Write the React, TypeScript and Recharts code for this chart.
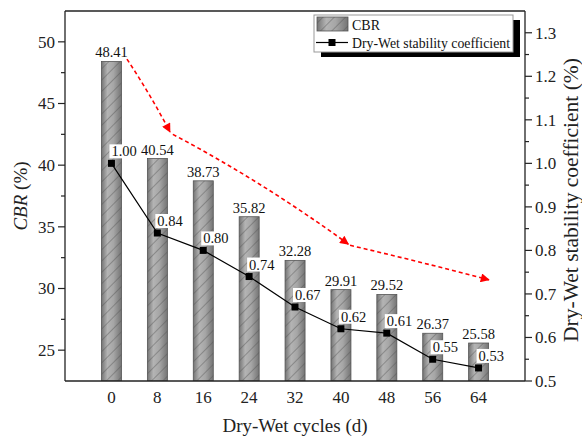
import React from "react";
import {
  ComposedChart,
  Bar,
  Line,
  XAxis,
  YAxis,
  LabelList,
  ReferenceLine,
} from "recharts";

const cycles = ["0", "8", "16", "24", "32", "40", "48", "56", "64"];
const cbrValues = [48.41, 40.54, 38.73, 35.82, 32.28, 29.91, 29.52, 26.37, 25.58];
const stabilityValues = [1.0, 0.84, 0.8, 0.74, 0.67, 0.62, 0.61, 0.55, 0.53];

const cbrTicks = [25, 27.5, 30, 32.5, 35, 37.5, 40, 42.5, 45, 47.5, 50];
const stabilityTicks = [0.5, 0.55, 0.6, 0.65, 0.7, 0.75, 0.8, 0.85, 0.9, 0.95, 1.0, 1.05, 1.1, 1.15, 1.2, 1.25, 1.3];

// red dashed trend arrows, in (cycle, CBR) units
const trendArrows = [
  { from: [2.7, 48.6], ctrl: [6.7, 45.8], to: [10.2, 42.7] },
  { from: [10.7, 42.5], ctrl: [26.2, 38.7], to: [41.3, 33.6] },
  { from: [41.6, 33.5], ctrl: [53.6, 32.2], to: [65.8, 30.7] },
];

const data = cycles.map((c, i) => ({
  cycle: c,
  cbr: cbrValues[i],
  stability: stabilityValues[i],
}));

const W = 582;
const H = 439;
const TOP = 11;
const LEFT_W = 65;
const RIGHT_W = 57;
const X_H = 58;
const X_PAD = 23.5;
const CBR_DOMAIN = [22.5, 52.5];
const FONT = "'Liberation Serif', 'Times New Roman', serif";

// overlay mapping, same layout as the chart
const plotLeft = LEFT_W;
const plotRight = W - RIGHT_W;
const plotBottom = H - X_H;
const band = (plotRight - plotLeft - 2 * X_PAD) / cycles.length;
const px = (c: number) => plotLeft + X_PAD + band / 2 + (c / 8) * band;
const py = (v: number) =>
  plotBottom - ((v - CBR_DOMAIN[0]) / (CBR_DOMAIN[1] - CBR_DOMAIN[0])) * (plotBottom - TOP);

function LeftTick(props: any) {
  const { x, y, payload } = props;
  const v = payload.value;
  const major = v % 5 === 0;
  return (
    <g>
      <line x1={x} x2={x - (major ? 7 : 4)} y1={y} y2={y} stroke="#222" strokeWidth={1.2} />
      {major && (
        <text x={x - 10} y={y} dy="0.35em" textAnchor="end" fontSize={17} fontFamily={FONT} fill="#222">
          {v}
        </text>
      )}
    </g>
  );
}

function RightTick(props: any) {
  const { x, y, payload } = props;
  const v = payload.value;
  const major = Math.abs(v * 10 - Math.round(v * 10)) < 1e-6;
  return (
    <g>
      <line x1={x} x2={x + (major ? 7 : 4)} y1={y} y2={y} stroke="#222" strokeWidth={1.2} />
      {major && (
        <text x={x + 10} y={y} dy="0.35em" textAnchor="start" fontSize={17} fontFamily={FONT} fill="#222">
          {v.toFixed(1)}
        </text>
      )}
    </g>
  );
}

function HatchBar(props: any) {
  const { x, y, width, height } = props;
  return (
    <g>
      <rect x={x} y={y} width={width} height={height} fill="url(#barGrad)" />
      <rect x={x} y={y} width={width} height={height} fill="url(#hatch)" stroke="#555" strokeWidth={0.8} />
    </g>
  );
}

function SquareDot(props: any) {
  const { cx, cy } = props;
  return <rect x={cx - 3.5} y={cy - 3.5} width={7} height={7} fill="#000" />;
}

function StabilityLabel(props: any) {
  const { x, y, value } = props;
  const txt = Number(value).toFixed(2);
  return (
    <g>
      <rect x={x - 2} y={y - 19} width={28} height={14} fill="#fff" />
      <text x={x} y={y - 7} fontSize={14.5} fontFamily={FONT} fill="#111">
        {txt}
      </text>
    </g>
  );
}

export default function App() {
  return (
    <div style={{ position: "absolute", left: 0, top: 0, width: W, height: H, background: "#fff" }}>
      <svg width={0} height={0} style={{ position: "absolute" }}>
        <defs>
          <linearGradient id="barGrad" x1="0" y1="0" x2="1" y2="0">
            <stop offset="0%" stopColor="#747474" />
            <stop offset="30%" stopColor="#b4b4b4" />
            <stop offset="60%" stopColor="#a6a6a6" />
            <stop offset="100%" stopColor="#747474" />
          </linearGradient>
          <pattern id="hatch" width={8} height={8} patternUnits="userSpaceOnUse" patternTransform="rotate(45)">
            <line x1={0} y1={0} x2={0} y2={8} stroke="#505050" strokeWidth={1} strokeOpacity={0.8} />
          </pattern>
          <marker
            id="redHead"
            viewBox="0 0 10 10"
            refX={9}
            refY={5}
            markerWidth={12}
            markerHeight={9}
            markerUnits="userSpaceOnUse"
            orient="auto"
          >
            <path d="M0,0 L10,5 L0,10 z" fill="#ff0000" />
          </marker>
        </defs>
      </svg>
      <ComposedChart
        width={W}
        height={H}
        data={data}
        margin={{ top: TOP, right: 0, bottom: 0, left: 0 }}
      >
        <XAxis
          dataKey="cycle"
          type="category"
          height={X_H}
          padding={{ left: X_PAD, right: X_PAD }}
          tickLine={false}
          tickSize={0}
          tickMargin={10}
          interval={0}
          axisLine={{ stroke: "#222", strokeWidth: 1.3 }}
          tick={{ fontSize: 17, fontFamily: FONT, fill: "#222" }}
        />
        <YAxis
          yAxisId="left"
          width={LEFT_W}
          domain={CBR_DOMAIN}
          ticks={cbrTicks}
          interval={0}
          tickLine={false}
          tickSize={0}
          tickMargin={0}
          tick={<LeftTick />}
          axisLine={{ stroke: "#222", strokeWidth: 1.3 }}
          allowDataOverflow
        />
        <YAxis
          yAxisId="right"
          orientation="right"
          width={RIGHT_W}
          domain={[0.5, 1.35]}
          ticks={stabilityTicks}
          interval={0}
          tickLine={false}
          tickSize={0}
          tickMargin={0}
          tick={<RightTick />}
          axisLine={{ stroke: "#222", strokeWidth: 1.3 }}
          allowDataOverflow
        />
        <ReferenceLine yAxisId="left" y={CBR_DOMAIN[1]} stroke="#222" strokeWidth={1.3} />
        <Bar
          yAxisId="left"
          dataKey="cbr"
          barSize={20}
          shape={<HatchBar />}
          isAnimationActive={false}
        >
          <LabelList
            dataKey="cbr"
            position="top"
            offset={4}
            formatter={(v: any) => Number(v).toFixed(2)}
            style={{ fontSize: 14.5, fontFamily: FONT, fill: "#111" }}
          />
        </Bar>
        <Line
          yAxisId="right"
          dataKey="stability"
          stroke="#000"
          strokeWidth={1.2}
          dot={<SquareDot />}
          activeDot={false}
          isAnimationActive={false}
        >
          <LabelList dataKey="stability" content={<StabilityLabel />} />
        </Line>
      </ComposedChart>
      <svg
        width={W}
        height={H}
        style={{ position: "absolute", left: 0, top: 0, pointerEvents: "none" }}
        fontFamily={FONT}
      >
        {trendArrows.map((a, i) => (
          <path
            key={i}
            d={`M${px(a.from[0])},${py(a.from[1])} Q${px(a.ctrl[0])},${py(a.ctrl[1])} ${px(a.to[0])},${py(a.to[1])}`}
            fill="none"
            stroke="#ff0000"
            strokeWidth={1.6}
            strokeDasharray="4 3"
            markerEnd="url(#redHead)"
          />
        ))}
        <text transform={`translate(27,${(TOP + plotBottom) / 2}) rotate(-90)`} textAnchor="middle" fontSize={19} fill="#222">
          <tspan fontStyle="italic">CBR</tspan> (%)
        </text>
        <text transform={`translate(578,200) rotate(-90)`} textAnchor="middle" fontSize={21.5} fill="#222">
          Dry-Wet stability coefficient (%)
        </text>
        <text x={(plotLeft + plotRight) / 2} y={432} textAnchor="middle" fontSize={19} fill="#222">
          Dry-Wet cycles (d)
        </text>
        <g>
          <rect x={321} y={20} width={199} height={37} fill="#000" />
          <rect x={314} y={15} width={199} height={37} fill="#fff" stroke="#999" strokeWidth={1} />
          <rect x={317} y={17} width={31} height={14} fill="url(#barGrad)" />
          <rect x={317} y={17} width={31} height={14} fill="url(#hatch)" stroke="#555" strokeWidth={0.8} />
          <text x={352} y={30} fontSize={14} fill="#111">CBR</text>
          <line x1={316} x2={348} y1={42.5} y2={42.5} stroke="#000" strokeWidth={1.2} />
          <rect x={328.5} y={39} width={7} height={7} fill="#000" />
          <text x={352} y={48} fontSize={13.8} fill="#111">Dry-Wet stability coefficient</text>
        </g>
      </svg>
    </div>
  );
}
